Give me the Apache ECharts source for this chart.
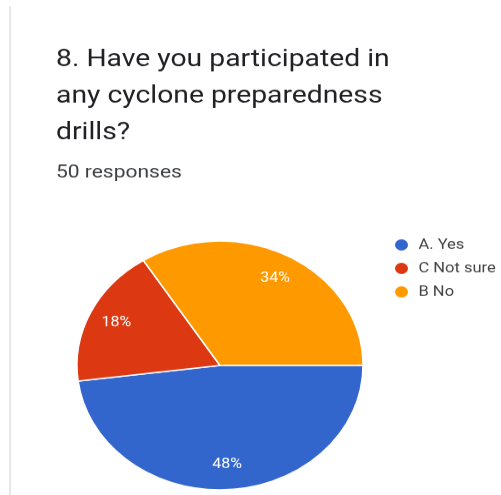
<!DOCTYPE html>
<html>
<head>
<meta charset="utf-8">
<script src="https://cdn.jsdelivr.net/npm/echarts@6/dist/echarts.min.js"></script>
<style>
  html, body { margin: 0; padding: 0; background: #fff; overflow: hidden; }
  #wrap { position: absolute; left: 0; top: 0; width: 501px; height: 495px; overflow: hidden; }
  /* the chart is laid out taller and flattened vertically, giving the oval pie */
  #chart { position: absolute; left: 0; top: 0; width: 501px; height: 569px;
           transform: scaleY(0.87); transform-origin: 0 0; }
  #rule { position: absolute; left: 9px; top: 6px; width: 2px; height: 489px; background: #e6e6e6; }
</style>
</head>
<body>
<div id="wrap">
  <div id="chart"></div>
  <div id="rule"></div>
</div>
<script>
const questionLines = ['8. Have you participated in', 'any cyclone preparedness', 'drills?'];
const responseCount = 50;
const categories = ['A. Yes', 'C Not sure', 'B No'];
const percentages = [48, 18, 34];
const sliceColors = ['#3366cc', '#dc3912', '#ff9900'];

const chart = echarts.init(document.getElementById('chart'), null, { renderer: 'canvas' });

const sliceData = categories.map((name, i) => ({
  name: name,
  value: percentages[i],
  itemStyle: { color: sliceColors[i] }
}));

const FONT = 'Roboto, "Noto Sans", sans-serif';
const center = [220, 420];
const R = 143;

chart.setOption({
  backgroundColor: '#ffffff',
  animation: false,
  title: {
    text: questionLines.join('\n'),
    subtext: responseCount + ' responses',
    left: 51,
    top: 43,
    itemGap: 14,
    textStyle: { fontFamily: FONT, fontSize: 28.3, fontWeight: 'normal', color: '#202124', lineHeight: 42 },
    subtextStyle: { fontFamily: FONT, fontSize: 21, color: '#3c4043' }
  },
  legend: {
    orient: 'vertical',
    left: 388,
    top: 268,
    icon: 'circle',
    itemWidth: 24,
    itemHeight: 15,
    itemGap: 10,
    selectedMode: false,
    data: categories,
    textStyle: { fontFamily: FONT, fontSize: 16.5, color: '#444' }
  },
  series: [
    {
      type: 'pie',
      center: center,
      radius: [0, R],
      startAngle: 0,
      clockwise: true,
      silent: true,
      label: { show: false },
      labelLine: { show: false },
      itemStyle: { borderColor: '#ffffff', borderWidth: 1.5 },
      data: sliceData
    },
    {
      // transparent ring that carries the percentage labels inside the slices
      type: 'pie',
      center: center,
      radius: [80, R],
      startAngle: 0,
      clockwise: true,
      silent: true,
      legendHoverLink: false,
      itemStyle: { color: 'rgba(0,0,0,0)', borderWidth: 0 },
      label: {
        show: true,
        position: 'inside',
        formatter: '{c}%',
        fontFamily: FONT,
        fontSize: 16,
        color: '#ffffff'
      },
      labelLine: { show: false },
      data: categories.map((name, i) => ({ name: name + ' ', value: percentages[i] }))
    }
  ]
});
</script>
</body>
</html>
